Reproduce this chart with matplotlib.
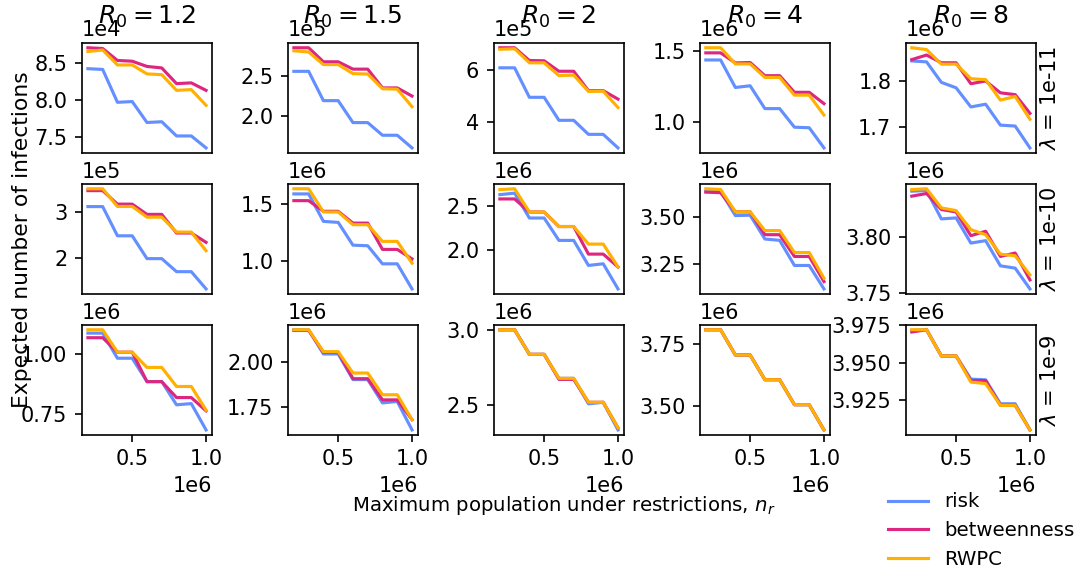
import matplotlib.pyplot as plt

# max population under restrictions
x = [0.2e6, 0.3e6, 0.4e6, 0.5e6, 0.6e6, 0.7e6, 0.8e6, 0.9e6, 1.0e6]

r0_labels = ["1.2", "1.5", "2", "4", "8"]
lambda_labels = ["1e-11", "1e-10", "1e-9"]

# lambda = 1e-11, one list per R0
risk_l11 = [
    [8.42e4, 8.41e4, 7.97e4, 7.98e4, 7.70e4, 7.71e4, 7.52e4, 7.52e4, 7.36e4],
    [2.553e5, 2.553e5, 2.194e5, 2.194e5, 1.925e5, 1.925e5, 1.77e5, 1.77e5, 1.615e5],
    [6.105e5, 6.105e5, 4.95e5, 4.95e5, 4.05e5, 4.05e5, 3.5e5, 3.5e5, 2.97e5],
    [1.438e6, 1.438e6, 1.244e6, 1.256e6, 1.095e6, 1.095e6, 0.964e6, 0.960e6, 0.818e6],
    [1.845e6, 1.843e6, 1.798e6, 1.786e6, 1.744e6, 1.750e6, 1.704e6, 1.702e6, 1.654e6],
]
betw_l11 = [
    [8.70e4, 8.69e4, 8.53e4, 8.52e4, 8.45e4, 8.43e4, 8.22e4, 8.23e4, 8.13e4],
    [2.842e5, 2.842e5, 2.67e5, 2.67e5, 2.58e5, 2.58e5, 2.35e5, 2.35e5, 2.25e5],
    [6.89e5, 6.89e5, 6.39e5, 6.38e5, 5.97e5, 5.97e5, 5.21e5, 5.21e5, 4.88e5],
    [1.488e6, 1.488e6, 1.417e6, 1.42e6, 1.327e6, 1.327e6, 1.21e6, 1.21e6, 1.13e6],
    [1.848e6, 1.858e6, 1.841e6, 1.841e6, 1.795e6, 1.801e6, 1.775e6, 1.771e6, 1.730e6],
]
rwpc_l11 = [
    [8.65e4, 8.67e4, 8.47e4, 8.47e4, 8.35e4, 8.34e4, 8.13e4, 8.14e4, 7.93e4],
    [2.805e5, 2.79e5, 2.636e5, 2.636e5, 2.525e5, 2.52e5, 2.34e5, 2.335e5, 2.12e5],
    [6.83e5, 6.85e5, 6.3e5, 6.3e5, 5.8e5, 5.82e5, 5.18e5, 5.19e5, 4.55e5],
    [1.524e6, 1.524e6, 1.41e6, 1.41e6, 1.315e6, 1.315e6, 1.19e6, 1.19e6, 1.05e6],
    [1.874e6, 1.870e6, 1.838e6, 1.838e6, 1.806e6, 1.804e6, 1.759e6, 1.767e6, 1.717e6],
]

# lambda = 1e-10
risk_l10 = [
    [3.107e5, 3.107e5, 2.48e5, 2.48e5, 1.99e5, 1.99e5, 1.71e5, 1.71e5, 1.34e5],
    [1.585e6, 1.585e6, 1.345e6, 1.336e6, 1.137e6, 1.132e6, 0.974e6, 0.974e6, 0.755e6],
    [2.633e6, 2.65e6, 2.367e6, 2.367e6, 2.112e6, 2.112e6, 1.827e6, 1.846e6, 1.56e6],
    [3.637e6, 3.637e6, 3.507e6, 3.509e6, 3.382e6, 3.375e6, 3.241e6, 3.241e6, 3.116e6],
    [3.8418e6, 3.8424e6, 3.8167e6, 3.8176e6, 3.7948e6, 3.797e6, 3.7742e6, 3.7721e6, 3.7533e6],
]
betw_l10 = [
    [3.45e5, 3.45e5, 3.16e5, 3.16e5, 2.94e5, 2.94e5, 2.54e5, 2.54e5, 2.34e5],
    [1.526e6, 1.526e6, 1.433e6, 1.433e6, 1.33e6, 1.33e6, 1.10e6, 1.10e6, 1.017e6],
    [2.584e6, 2.584e6, 2.435e6, 2.435e6, 2.27e6, 2.27e6, 1.956e6, 1.956e6, 1.81e6],
    [3.632e6, 3.629e6, 3.527e6, 3.527e6, 3.405e6, 3.405e6, 3.289e6, 3.289e6, 3.155e6],
    [3.8373e6, 3.8397e6, 3.8252e6, 3.823e6, 3.8015e6, 3.8055e6, 3.7827e6, 3.7858e6, 3.7615e6],
]
rwpc_l10 = [
    [3.49e5, 3.49e5, 3.11e5, 3.11e5, 2.88e5, 2.88e5, 2.56e5, 2.56e5, 2.16e5],
    [1.63e6, 1.63e6, 1.427e6, 1.427e6, 1.316e6, 1.316e6, 1.17e6, 1.17e6, 0.98e6],
    [2.69e6, 2.70e6, 2.435e6, 2.435e6, 2.27e6, 2.27e6, 2.07e6, 2.07e6, 1.81e6],
    [3.65e6, 3.646e6, 3.527e6, 3.527e6, 3.427e6, 3.427e6, 3.31e6, 3.31e6, 3.173e6],
    [3.8433e6, 3.844e6, 3.8267e6, 3.8242e6, 3.807e6, 3.8024e6, 3.7848e6, 3.7833e6, 3.766e6],
]

# lambda = 1e-9
risk_l9 = [
    [1.086e6, 1.086e6, 0.982e6, 0.982e6, 0.885e6, 0.885e6, 0.789e6, 0.794e6, 0.685e6],
    [2.185e6, 2.185e6, 2.048e6, 2.048e6, 1.903e6, 1.903e6, 1.771e6, 1.779e6, 1.618e6],
    [3.004e6, 3.004e6, 2.84e6, 2.84e6, 2.68e6, 2.68e6, 2.51e6, 2.52e6, 2.336e6],
    [3.807e6, 3.807e6, 3.705e6, 3.705e6, 3.605e6, 3.605e6, 3.504e6, 3.504e6, 3.402e6],
    [3.9716e6, 3.972e6, 3.9545e6, 3.9545e6, 3.939e6, 3.9385e6, 3.9225e6, 3.9225e6, 3.905e6],
]
betw_l9 = [
    [1.067e6, 1.067e6, 1.007e6, 1.007e6, 0.885e6, 0.885e6, 0.819e6, 0.819e6, 0.764e6],
    [2.181e6, 2.181e6, 2.057e6, 2.057e6, 1.908e6, 1.908e6, 1.788e6, 1.788e6, 1.676e6],
    [3.004e6, 3.004e6, 2.84e6, 2.84e6, 2.673e6, 2.673e6, 2.52e6, 2.52e6, 2.35e6],
    [3.807e6, 3.807e6, 3.705e6, 3.705e6, 3.605e6, 3.605e6, 3.504e6, 3.504e6, 3.402e6],
    [3.9705e6, 3.972e6, 3.9545e6, 3.9545e6, 3.938e6, 3.938e6, 3.9214e6, 3.9214e6, 3.905e6],
]
rwpc_l9 = [
    [1.10e6, 1.10e6, 1.007e6, 1.007e6, 0.944e6, 0.944e6, 0.865e6, 0.865e6, 0.767e6],
    [2.185e6, 2.185e6, 2.061e6, 2.061e6, 1.94e6, 1.94e6, 1.817e6, 1.817e6, 1.676e6],
    [3.004e6, 3.004e6, 2.84e6, 2.84e6, 2.68e6, 2.68e6, 2.52e6, 2.52e6, 2.35e6],
    [3.807e6, 3.807e6, 3.705e6, 3.705e6, 3.605e6, 3.605e6, 3.504e6, 3.504e6, 3.402e6],
    [3.972e6, 3.972e6, 3.9545e6, 3.9545e6, 3.937e6, 3.936e6, 3.9214e6, 3.9214e6, 3.905e6],
]

risk_rows = [risk_l11, risk_l10, risk_l9]
betw_rows = [betw_l11, betw_l10, betw_l9]
rwpc_rows = [rwpc_l11, rwpc_l10, rwpc_l9]

colors = {"risk": "#648FFF", "betweenness": "#DC267F", "RWPC": "#FFB000"}

fig, axes = plt.subplots(3, 5, figsize=(1079 / 150, 570 / 150), dpi=150, sharex=True)
fig.subplots_adjust(left=0.076, right=0.960, bottom=0.237, top=0.925,
                    wspace=0.585, hspace=0.28)

for i in range(3):
    for j in range(5):
        ax = axes[i][j]
        ax.plot(x, risk_rows[i][j], color=colors["risk"], label="risk")
        ax.plot(x, betw_rows[i][j], color=colors["betweenness"], label="betweenness")
        ax.plot(x, rwpc_rows[i][j], color=colors["RWPC"], label="RWPC")
        ax.ticklabel_format(axis="both", style="sci", scilimits=(0, 0), useOffset=False)
        if i < 2:
            ax.tick_params(axis="x", bottom=False)
        if i == 0:
            # fixed position, it overlaps the offset text a little like the original
            ax.set_title("$R_0 = " + r0_labels[j] + "$", y=1.0, pad=9)
        if j == 4:
            ax.yaxis.set_label_position("right")
            ax.set_ylabel(r"$\lambda$ = " + lambda_labels[i], labelpad=2)

fig.text(0.02, 0.579, "Expected number of infections", rotation=90,
         ha="center", va="center", fontsize=10.5)
fig.text(0.522, 0.113, "Maximum population under restrictions, $n_r$",
         ha="center", va="center", fontsize=9.5)

handles, labels = axes[0][0].get_legend_handles_labels()
fig.legend(handles, labels, loc="lower right", frameon=False, fontsize=9.5,
           bbox_to_anchor=(1.012, -0.03))

fig.savefig("out.png", dpi=150)
